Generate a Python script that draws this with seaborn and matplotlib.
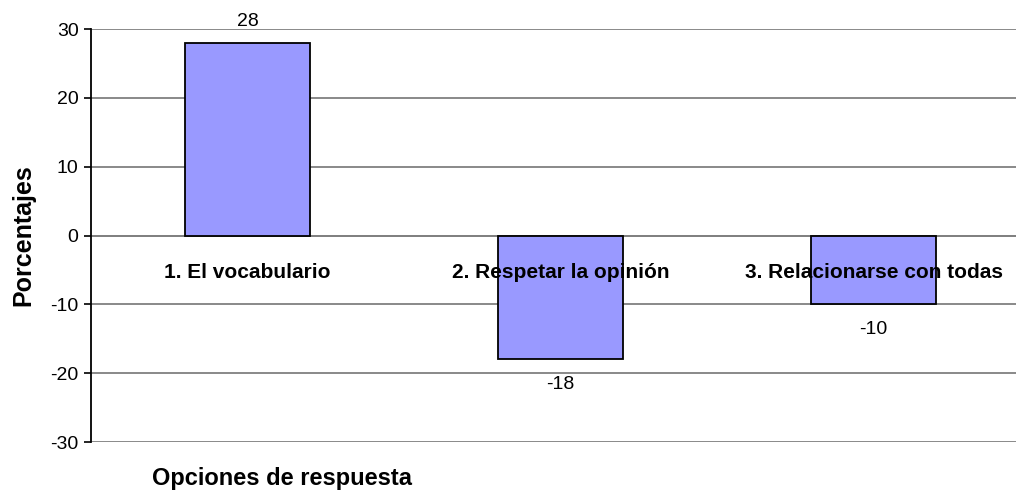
import matplotlib
matplotlib.use('Agg')
import matplotlib.pyplot as plt
import seaborn as sns
import pandas as pd

# Data
categories = ['1. El vocabulario', '2. Respetar la opinión', '3. Relacionarse con todas']
values = [28, -18, -10]
y_ticks = [-30, -20, -10, 0, 10, 20, 30]

df = pd.DataFrame({'opcion': categories, 'porcentaje': values})

sns.set_style('white')
plt.rcParams['font.family'] = ['Liberation Sans', 'DejaVu Sans']
plt.rcParams['text.color'] = 'black'
plt.rcParams['ytick.color'] = 'black'
plt.rcParams['axes.labelcolor'] = 'black'

fig = plt.figure(figsize=(10.16, 4.9), dpi=100)
# plot area: left axis at x~91px, top y~29px, bottom y~442px; runs off the right edge
ax = fig.add_axes([91 / 1016, 1 - 442 / 490, (1016 - 91) / 1016, (442 - 29) / 490])

sns.barplot(data=df, x='opcion', y='porcentaje', color='#9999FF',
            edgecolor='black', linewidth=1.3, width=0.4, saturation=1, ax=ax)

ax.set_ylim(-30, 30)
ax.set_xlim(-0.5, 2.455)
ax.set_yticks(y_ticks)
ax.set_yticklabels([str(t) for t in y_ticks], fontsize=14)
ax.yaxis.grid(True, color='#808080', linewidth=1.3)
ax.set_axisbelow(True)
ax.axhline(0, color='#808080', linewidth=1.3, zorder=0)
ax.tick_params(axis='y', length=5, width=1.2, color='black', left=True, pad=4)

ax.set_xticks([])
ax.set_xlabel('')
ax.set_ylabel('Porcentajes', fontsize=18, fontweight='bold')
ax.yaxis.set_label_coords(-(91 - 35) / 925, 0.5)

for side in ['top', 'right', 'bottom']:
    ax.spines[side].set_visible(False)
ax.spines['left'].set_color('black')
ax.spines['left'].set_linewidth(1.3)

# category labels just below the zero line, value labels at bar ends
for i, (cat, val) in enumerate(zip(categories, values)):
    ax.text(i, -5.35, cat, ha='center', va='center', fontsize=15, fontweight='bold')
    if val >= 0:
        ax.annotate(str(val), (i, val), xytext=(0, 9), textcoords='offset points',
                    ha='center', va='bottom', fontsize=14)
    else:
        ax.annotate(str(val), (i, val), xytext=(0, -12), textcoords='offset points',
                    ha='center', va='top', fontsize=14)

fig.text(152 / 1016, 1 - 478 / 490, 'Opciones de respuesta', ha='left', va='center',
         fontsize=17, fontweight='bold')

fig.savefig('out.png', dpi=100)
plt.close(fig)
